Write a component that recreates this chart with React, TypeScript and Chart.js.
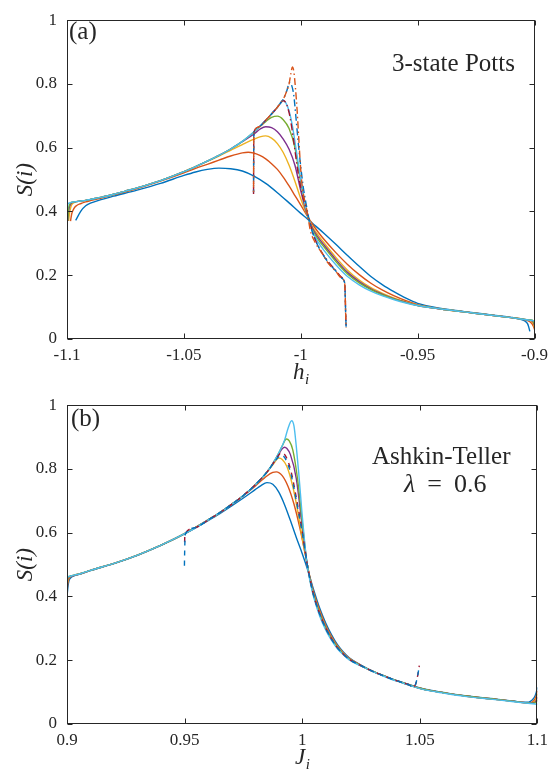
import React, { useEffect, useRef } from 'react';
import { Chart, registerables } from 'chart.js';
Chart.register(...registerables);

const SERIF = "'Liberation Serif', 'Times New Roman', 'DejaVu Serif', serif";
const INK = '#262626';
const COL = {
  blue: '#0072BD', orange: '#D95319', yellow: '#EDB120', purple: '#7E2F8E',
  green: '#77AC30', cyan: '#4DBEEE', red: '#A2142F',
};

type Pt = [number, number];

// ---------- axes ----------
const hTicks = [-1.1, -1.05, -1, -0.95, -0.9];
const hTickLabels = ['-1.1', '-1.05', '-1', '-0.95', '-0.9'];
const jTicks = [0.9, 0.95, 1, 1.05, 1.1];
const jTickLabels = ['0.9', '0.95', '1', '1.05', '1.1'];
const sTicks = [0, 0.2, 0.4, 0.6, 0.8, 1];
const sTickLabels = ['0', '0.2', '0.4', '0.6', '0.8', '1'];

// ---------- panel (a): 3-state Potts, S(i) vs h_i ----------
const pottsBlue: Pt[] = [[-1.0963,0.372],[-1.094,0.402],[-1.092,0.418],[-1.09,0.426],[-1.085,0.438],[-1.08,0.448],[-1.07,0.467],[-1.06,0.488],[-1.05,0.513],[-1.045,0.524],[-1.04,0.532],[-1.035,0.536],[-1.03,0.534],[-1.025,0.527],[-1.02,0.511],[-1.015,0.488],[-1.01,0.459],[-1.005,0.427],[-1.0,0.394],[-0.9975,0.379],[-0.995,0.363],[-0.99,0.331],[-0.985,0.297],[-0.98,0.262],[-0.975,0.228],[-0.97,0.196],[-0.965,0.170],[-0.96,0.148],[-0.955,0.128],[-0.95,0.112],[-0.94,0.096],[-0.93,0.086],[-0.92,0.077],[-0.91,0.068],[-0.906,0.062],[-0.904,0.056],[-0.903,0.048],[-0.9025,0.038],[-0.902,0.024]];
const pottsOrange: Pt[] = [[-1.0985,0.370],[-1.098,0.392],[-1.097,0.41],[-1.096,0.418],[-1.094,0.425],[-1.092,0.430],[-1.09,0.434],[-1.085,0.443],[-1.08,0.452],[-1.07,0.472],[-1.06,0.495],[-1.05,0.521],[-1.045,0.535],[-1.04,0.548],[-1.035,0.561],[-1.03,0.574],[-1.025,0.584],[-1.0225,0.586],[-1.02,0.583],[-1.0175,0.576],[-1.015,0.565],[-1.0125,0.55],[-1.01,0.532],[-1.0075,0.508],[-1.005,0.48],[-1.0025,0.45],[-1.0,0.42],[-0.9975,0.389],[-0.995,0.36],[-0.9925,0.335],[-0.99,0.312],[-0.985,0.271],[-0.98,0.234],[-0.975,0.202],[-0.97,0.175],[-0.965,0.153],[-0.96,0.135],[-0.955,0.120],[-0.95,0.108],[-0.94,0.094],[-0.93,0.085],[-0.92,0.076],[-0.91,0.067],[-0.905,0.062],[-0.903,0.058],[-0.902,0.054],[-0.901,0.047],[-0.9005,0.04],[-0.9,0.03]];
const pottsYellow: Pt[] = [[-1.0993,0.370],[-1.099,0.39],[-1.0985,0.41],[-1.098,0.421],[-1.097,0.428],[-1.096,0.431],[-1.094,0.433],[-1.092,0.435],[-1.09,0.438],[-1.085,0.445],[-1.08,0.454],[-1.075,0.464],[-1.07,0.474],[-1.06,0.497],[-1.05,0.525],[-1.045,0.541],[-1.04,0.557],[-1.035,0.574],[-1.03,0.592],[-1.025,0.61],[-1.02,0.627],[-1.0175,0.634],[-1.015,0.637],[-1.0125,0.63],[-1.01,0.613],[-1.0075,0.585],[-1.005,0.545],[-1.0025,0.495],[-1.0,0.44],[-0.9975,0.392],[-0.995,0.352],[-0.9925,0.325],[-0.99,0.301],[-0.985,0.256],[-0.98,0.216],[-0.975,0.185],[-0.97,0.161],[-0.965,0.143],[-0.96,0.128],[-0.955,0.116],[-0.95,0.106],[-0.94,0.094],[-0.93,0.085],[-0.92,0.076],[-0.91,0.067],[-0.905,0.062],[-0.903,0.06],[-0.902,0.058],[-0.901,0.054],[-0.9005,0.048],[-0.9,0.036]];
const pottsPurple: Pt[] = [[-1.0997,0.370],[-1.0993,0.40],[-1.099,0.413],[-1.0985,0.422],[-1.098,0.427],[-1.097,0.430],[-1.096,0.431],[-1.094,0.433],[-1.092,0.435],[-1.09,0.438],[-1.085,0.445],[-1.08,0.454],[-1.075,0.464],[-1.07,0.474],[-1.06,0.497],[-1.05,0.525],[-1.045,0.541],[-1.04,0.558],[-1.035,0.576],[-1.03,0.596],[-1.025,0.619],[-1.02,0.643],[-1.0175,0.658],[-1.015,0.666],[-1.0125,0.663],[-1.01,0.65],[-1.0075,0.627],[-1.005,0.595],[-1.0025,0.545],[-1.0,0.465],[-0.9975,0.395],[-0.995,0.347],[-0.9925,0.318],[-0.99,0.294],[-0.985,0.249],[-0.98,0.209],[-0.975,0.18],[-0.97,0.157],[-0.965,0.14],[-0.96,0.126],[-0.955,0.115],[-0.95,0.105],[-0.94,0.094],[-0.93,0.085],[-0.92,0.076],[-0.91,0.067],[-0.905,0.062],[-0.903,0.06],[-0.902,0.059],[-0.901,0.057],[-0.9005,0.053],[-0.9,0.042]];
const pottsGreen: Pt[] = [[-1.0997,0.372],[-1.0993,0.41],[-1.099,0.42],[-1.0985,0.426],[-1.098,0.429],[-1.097,0.430],[-1.096,0.431],[-1.094,0.433],[-1.092,0.435],[-1.09,0.438],[-1.085,0.445],[-1.08,0.454],[-1.075,0.464],[-1.07,0.474],[-1.06,0.497],[-1.05,0.525],[-1.045,0.541],[-1.04,0.558],[-1.035,0.576],[-1.03,0.596],[-1.025,0.62],[-1.02,0.65],[-1.0175,0.666],[-1.015,0.682],[-1.0125,0.695],[-1.01,0.699],[-1.0075,0.688],[-1.005,0.66],[-1.0025,0.60],[-1.0,0.49],[-0.9975,0.398],[-0.995,0.343],[-0.9925,0.312],[-0.99,0.288],[-0.985,0.243],[-0.98,0.204],[-0.975,0.176],[-0.97,0.155],[-0.965,0.138],[-0.96,0.125],[-0.955,0.114],[-0.95,0.105],[-0.94,0.094],[-0.93,0.085],[-0.92,0.076],[-0.91,0.067],[-0.905,0.062],[-0.902,0.06],[-0.901,0.059],[-0.9005,0.056],[-0.9,0.045]];
const pottsCyan: Pt[] = [[-1.1,0.372],[-1.0997,0.42],[-1.0993,0.426],[-1.099,0.427],[-1.0985,0.428],[-1.098,0.429],[-1.097,0.430],[-1.096,0.431],[-1.094,0.433],[-1.092,0.435],[-1.09,0.438],[-1.085,0.445],[-1.08,0.454],[-1.075,0.464],[-1.07,0.474],[-1.06,0.497],[-1.05,0.525],[-1.045,0.541],[-1.04,0.558],[-1.035,0.576],[-1.03,0.596],[-1.025,0.62],[-1.02,0.65],[-1.0175,0.667],[-1.015,0.686],[-1.0125,0.706],[-1.01,0.727],[-1.0085,0.743],[-1.0076,0.748],[-1.0065,0.742],[-1.005,0.715],[-1.0035,0.665],[-1.002,0.595],[-1.0,0.50],[-0.998,0.415],[-0.9965,0.375],[-0.995,0.338],[-0.9925,0.303],[-0.99,0.277],[-0.985,0.233],[-0.98,0.196],[-0.975,0.17],[-0.97,0.15],[-0.965,0.135],[-0.96,0.123],[-0.955,0.113],[-0.95,0.105],[-0.94,0.094],[-0.93,0.085],[-0.92,0.076],[-0.91,0.067],[-0.905,0.062],[-0.902,0.059],[-0.9,0.057]];
const pottsRedDashDot: Pt[] = [[-1.0202,0.455],[-1.02015,0.56],[-1.0201,0.63],[-1.0199,0.652],[-1.0175,0.667],[-1.015,0.686],[-1.0125,0.706],[-1.01,0.727],[-1.0085,0.742],[-1.0076,0.748],[-1.0068,0.745],[-1.006,0.735],[-1.005,0.71],[-1.004,0.67],[-1.003,0.62],[-1.002,0.565],[-1.001,0.515],[-1.0,0.475],[-0.9985,0.43],[-0.997,0.39],[-0.9955,0.35],[-0.994,0.315],[-0.991,0.272],[-0.988,0.24],[-0.985,0.215],[-0.9825,0.193],[-0.9812,0.176],[-0.981,0.14],[-0.9808,0.08],[-0.9806,0.036]];
const pottsBlueDashDot: Pt[] = [[-1.0202,0.46],[-1.02015,0.57],[-1.0201,0.635],[-1.0199,0.652],[-1.0175,0.667],[-1.015,0.686],[-1.0125,0.706],[-1.01,0.727],[-1.0075,0.752],[-1.006,0.778],[-1.0048,0.805],[-1.004,0.798],[-1.003,0.765],[-1.002,0.69],[-1.001,0.61],[-1.0,0.54],[-0.999,0.48],[-0.9975,0.415],[-0.996,0.36],[-0.994,0.315],[-0.991,0.27],[-0.988,0.238],[-0.985,0.213],[-0.9825,0.191],[-0.9812,0.175],[-0.981,0.14],[-0.9808,0.08],[-0.9806,0.038]];
const pottsOrangeDashDot: Pt[] = [[-1.0202,0.455],[-1.02015,0.55],[-1.0201,0.625],[-1.0199,0.652],[-1.0175,0.667],[-1.015,0.686],[-1.0125,0.706],[-1.01,0.727],[-1.0075,0.752],[-1.006,0.778],[-1.005,0.80],[-1.0043,0.83],[-1.0036,0.853],[-1.003,0.84],[-1.0023,0.79],[-1.0015,0.71],[-1.0009,0.635],[-1.0,0.53],[-0.9994,0.48],[-0.9985,0.44],[-0.9973,0.40],[-0.9959,0.34],[-0.994,0.305],[-0.991,0.27],[-0.9882,0.237],[-0.985,0.212],[-0.9825,0.19],[-0.9812,0.174],[-0.981,0.14],[-0.9808,0.08],[-0.9806,0.036]];

// ---------- panel (b): Ashkin-Teller, S(i) vs J_i ----------
const atBlue: Pt[] = [[0.9,0.40],[0.9004,0.43],[0.9008,0.448],[0.9015,0.458],[0.903,0.465],[0.906,0.471],[0.91,0.481],[0.92,0.503],[0.93,0.529],[0.94,0.56],[0.95,0.596],[0.96,0.638],[0.965,0.66],[0.97,0.684],[0.975,0.709],[0.98,0.735],[0.9825,0.748],[0.985,0.757],[0.9875,0.752],[0.99,0.728],[0.9925,0.688],[0.995,0.638],[0.9975,0.585],[1.0,0.535],[1.0025,0.48],[1.005,0.418],[1.0075,0.362],[1.01,0.317],[1.0125,0.28],[1.015,0.249],[1.0175,0.226],[1.02,0.208],[1.025,0.185],[1.03,0.166],[1.035,0.151],[1.04,0.137],[1.045,0.125],[1.05,0.113],[1.055,0.105],[1.06,0.099],[1.065,0.093],[1.07,0.088],[1.08,0.08],[1.09,0.072],[1.094,0.068],[1.096,0.068],[1.097,0.071],[1.098,0.077],[1.099,0.088],[1.0995,0.098],[1.1,0.115]];
const atOrange: Pt[] = [[0.9,0.415],[0.9004,0.445],[0.901,0.458],[0.903,0.466],[0.906,0.472],[0.91,0.482],[0.92,0.504],[0.93,0.53],[0.94,0.561],[0.95,0.597],[0.96,0.64],[0.965,0.663],[0.97,0.689],[0.975,0.716],[0.98,0.746],[0.985,0.778],[0.9875,0.789],[0.989,0.791],[0.9915,0.779],[0.994,0.745],[0.9965,0.69],[0.999,0.615],[1.0015,0.525],[1.003,0.47],[1.005,0.41],[1.0075,0.355],[1.01,0.31],[1.0125,0.274],[1.015,0.245],[1.0175,0.223],[1.02,0.206],[1.025,0.184],[1.03,0.165],[1.035,0.15],[1.04,0.136],[1.045,0.124],[1.05,0.112],[1.055,0.104],[1.06,0.098],[1.065,0.092],[1.07,0.087],[1.08,0.079],[1.09,0.071],[1.095,0.067],[1.097,0.067],[1.098,0.07],[1.099,0.079],[1.0995,0.088],[1.1,0.104]];
const atYellow: Pt[] = [[0.9,0.43],[0.9004,0.452],[0.901,0.461],[0.903,0.466],[0.906,0.472],[0.91,0.482],[0.92,0.504],[0.93,0.53],[0.94,0.561],[0.95,0.597],[0.96,0.64],[0.965,0.663],[0.97,0.689],[0.975,0.717],[0.98,0.75],[0.985,0.789],[0.9875,0.813],[0.99,0.834],[0.9915,0.83],[0.9935,0.808],[0.996,0.745],[0.998,0.672],[1.0,0.585],[1.002,0.507],[1.0035,0.45],[1.005,0.405],[1.0075,0.35],[1.01,0.306],[1.0125,0.27],[1.015,0.243],[1.0175,0.222],[1.02,0.205],[1.025,0.183],[1.03,0.165],[1.035,0.15],[1.04,0.136],[1.045,0.124],[1.05,0.112],[1.055,0.104],[1.06,0.098],[1.065,0.092],[1.07,0.087],[1.08,0.079],[1.09,0.071],[1.096,0.066],[1.098,0.067],[1.099,0.072],[1.0995,0.079],[1.1,0.094]];
const atPurple: Pt[] = [[0.9,0.44],[0.9003,0.455],[0.901,0.462],[0.903,0.466],[0.906,0.472],[0.91,0.482],[0.92,0.504],[0.93,0.53],[0.94,0.561],[0.95,0.597],[0.96,0.64],[0.965,0.663],[0.97,0.689],[0.975,0.717],[0.98,0.75],[0.985,0.79],[0.9875,0.816],[0.99,0.846],[0.9915,0.863],[0.9925,0.868],[0.9935,0.864],[0.995,0.845],[0.9975,0.77],[1.0,0.62],[1.002,0.507],[1.0035,0.447],[1.005,0.402],[1.0075,0.346],[1.01,0.303],[1.0125,0.268],[1.015,0.241],[1.0175,0.22],[1.02,0.204],[1.025,0.183],[1.03,0.165],[1.035,0.15],[1.04,0.136],[1.045,0.124],[1.05,0.112],[1.055,0.104],[1.06,0.098],[1.065,0.092],[1.07,0.087],[1.08,0.079],[1.09,0.071],[1.097,0.066],[1.099,0.068],[1.0995,0.073],[1.1,0.084]];
const atGreen: Pt[] = [[0.9,0.445],[0.9003,0.458],[0.901,0.463],[0.903,0.467],[0.906,0.472],[0.91,0.482],[0.92,0.504],[0.93,0.53],[0.94,0.561],[0.95,0.597],[0.96,0.64],[0.965,0.663],[0.97,0.689],[0.975,0.717],[0.98,0.75],[0.985,0.79],[0.9875,0.817],[0.99,0.849],[0.9915,0.872],[0.9933,0.894],[0.9945,0.888],[0.996,0.86],[0.998,0.77],[1.0,0.635],[1.002,0.507],[1.0035,0.445],[1.005,0.40],[1.0075,0.343],[1.01,0.30],[1.0125,0.266],[1.015,0.24],[1.0175,0.219],[1.02,0.203],[1.025,0.183],[1.03,0.165],[1.035,0.15],[1.04,0.136],[1.045,0.124],[1.05,0.112],[1.055,0.104],[1.06,0.098],[1.065,0.092],[1.07,0.087],[1.08,0.079],[1.09,0.071],[1.098,0.065],[1.0995,0.068],[1.1,0.075]];
const atCyan: Pt[] = [[0.9,0.455],[0.9003,0.461],[0.901,0.463],[0.903,0.467],[0.906,0.472],[0.91,0.482],[0.92,0.504],[0.93,0.53],[0.94,0.561],[0.95,0.597],[0.955,0.617],[0.96,0.64],[0.965,0.663],[0.97,0.689],[0.975,0.717],[0.98,0.75],[0.985,0.79],[0.9875,0.817],[0.99,0.85],[0.9925,0.89],[0.994,0.928],[0.9955,0.951],[0.9965,0.935],[0.9975,0.87],[0.9985,0.79],[1.0,0.655],[1.001,0.575],[1.002,0.507],[1.003,0.46],[1.004,0.425],[1.005,0.395],[1.0075,0.337],[1.01,0.295],[1.0125,0.262],[1.015,0.236],[1.0175,0.217],[1.02,0.201],[1.025,0.182],[1.03,0.164],[1.035,0.149],[1.04,0.135],[1.045,0.123],[1.05,0.111],[1.055,0.103],[1.06,0.097],[1.065,0.091],[1.07,0.086],[1.08,0.078],[1.09,0.07],[1.1,0.062]];
const atRedDash: Pt[] = [[0.95,0.57],[0.9501,0.59],[0.9503,0.598],[0.955,0.617],[0.96,0.64],[0.965,0.663],[0.97,0.689],[0.975,0.717],[0.98,0.75],[0.985,0.79],[0.9875,0.816],[0.99,0.843],[0.991,0.851],[0.9925,0.846],[0.995,0.80],[0.9975,0.71],[1.0,0.605],[1.002,0.507],[1.0035,0.448],[1.005,0.40],[1.0075,0.344],[1.01,0.30],[1.0125,0.266],[1.015,0.239],[1.0175,0.219],[1.02,0.203],[1.025,0.183],[1.03,0.165],[1.035,0.15],[1.04,0.136],[1.045,0.124],[1.047,0.117],[1.048,0.121],[1.049,0.148],[1.0498,0.183]];
const atBlueDash: Pt[] = [[0.9499,0.481],[0.95,0.53],[0.9502,0.585],[0.9505,0.598],[0.955,0.617],[0.96,0.64],[0.965,0.663],[0.97,0.689],[0.975,0.717],[0.98,0.75],[0.985,0.79],[0.9875,0.815],[0.99,0.838],[0.991,0.843],[0.9925,0.836],[0.995,0.79],[0.9975,0.70],[1.0,0.60],[1.002,0.507],[1.0035,0.448],[1.005,0.40],[1.0075,0.344],[1.01,0.30],[1.0125,0.266],[1.015,0.239],[1.0175,0.219],[1.02,0.203],[1.025,0.183],[1.03,0.165],[1.035,0.15],[1.04,0.136],[1.045,0.124],[1.047,0.117],[1.048,0.121],[1.049,0.148],[1.0498,0.183]];

const DASHDOT = [7, 3, 1.5, 3];
const DASH = [5, 5];

function series(list: { data: Pt[]; color: string; dash?: number[]; offset?: number }[]) {
  const n = list.length;
  return list.map((s, i) => ({
    data: s.data.map(([x, y]) => ({ x, y })),
    borderColor: s.color,
    backgroundColor: s.color,
    borderWidth: 1.4,
    borderDash: s.dash || [],
    borderDashOffset: s.offset || 0,
    pointRadius: 0,
    pointHoverRadius: 0,
    fill: false,
    cubicInterpolationMode: 'monotone',
    order: n - 1 - i,
  }));
}

function drawXTitle(ctx: any, main: string, sub: string, cx: number, base: number) {
  ctx.font = `italic 23px ${SERIF}`;
  const w1 = ctx.measureText(main).width;
  ctx.font = `italic 15px ${SERIF}`;
  const w2 = ctx.measureText(sub).width;
  const x0 = cx - (w1 + w2) / 2;
  ctx.textAlign = 'left';
  ctx.textBaseline = 'alphabetic';
  ctx.font = `italic 23px ${SERIF}`;
  ctx.fillText(main, x0, base);
  ctx.font = `italic 15px ${SERIF}`;
  ctx.fillText(sub, x0 + w1 + 0.5, base + 5);
}

function makeConfig(datasets: any[], xMin: number, xMax: number, xTicks: number[], xLabels: string[], titleMain: string, titleSub: string, drawNotes: (ctx: any) => void) {
  const tickFont = { family: SERIF, size: 17 };
  return {
    type: 'line',
    data: { datasets },
    options: {
      animation: false,
      responsive: false,
      maintainAspectRatio: false,
      events: [],
      layout: { padding: { left: 0, right: 13, top: 15, bottom: 0 } },
      plugins: { legend: { display: false }, tooltip: { enabled: false } },
      scales: {
        x: {
          type: 'linear', min: xMin, max: xMax,
          afterBuildTicks: (s: any) => { s.ticks = xTicks.map((v) => ({ value: v })); },
          afterFit: (s: any) => { s.height = 46; },
          ticks: { callback: (_v: any, i: number) => xLabels[i], font: tickFont, color: INK, padding: 6, maxRotation: 0, autoSkip: false },
          grid: { display: false, drawTicks: false },
          border: { display: false },
        },
        y: {
          type: 'linear', min: 0, max: 1,
          afterBuildTicks: (s: any) => { s.ticks = sTicks.map((v) => ({ value: v })); },
          afterFit: (s: any) => { s.width = 67; },
          ticks: { callback: (_v: any, i: number) => sTickLabels[i], font: tickFont, color: INK, padding: 10, autoSkip: false },
          grid: { display: false, drawTicks: false },
          border: { display: false },
        },
      },
    },
    plugins: [{
      id: 'matlabFrame',
      afterDatasetsDraw(chart: any) {
        const { ctx, chartArea: a, scales } = chart;
        ctx.save();
        ctx.strokeStyle = INK;
        ctx.lineWidth = 1;
        const L = Math.round(a.left) + 0.5, R = Math.round(a.right) - 0.5;
        const T = Math.round(a.top) + 0.5, B = Math.round(a.bottom) - 0.5;
        ctx.strokeRect(L, T, R - L, B - T);
        ctx.beginPath();
        xTicks.forEach((v) => {
          const px = Math.round(scales.x.getPixelForValue(v)) + 0.5;
          ctx.moveTo(px, B); ctx.lineTo(px, B - 5);
          ctx.moveTo(px, T); ctx.lineTo(px, T + 5);
        });
        sTicks.forEach((v) => {
          const py = Math.round(scales.y.getPixelForValue(v)) + 0.5;
          ctx.moveTo(L, py); ctx.lineTo(L + 5, py);
          ctx.moveTo(R, py); ctx.lineTo(R - 5, py);
        });
        ctx.stroke();
        ctx.restore();
      },
      afterDraw(chart: any) {
        const { ctx, chartArea: a } = chart;
        ctx.save();
        ctx.fillStyle = INK;
        // y title
        ctx.save();
        ctx.translate(26, (a.top + a.bottom) / 2);
        ctx.rotate(-Math.PI / 2);
        ctx.font = `italic 23px ${SERIF}`;
        ctx.textAlign = 'center';
        ctx.textBaseline = 'middle';
        ctx.fillText('S(i)', 0, 0);
        ctx.restore();
        // x title
        drawXTitle(ctx, titleMain, titleSub, (a.left + a.right) / 2, a.bottom + 40);
        // notes
        drawNotes(ctx);
        ctx.restore();
      },
    }],
  } as any;
}

export default function App() {
  const refA = useRef<HTMLCanvasElement>(null);
  const refB = useRef<HTMLCanvasElement>(null);

  useEffect(() => {
    const dsA = series([
      { data: pottsBlue, color: COL.blue },
      { data: pottsOrange, color: COL.orange },
      { data: pottsYellow, color: COL.yellow },
      { data: pottsPurple, color: COL.purple },
      { data: pottsGreen, color: COL.green },
      { data: pottsCyan, color: COL.cyan },
      { data: pottsRedDashDot, color: COL.red, dash: DASHDOT },
      { data: pottsBlueDashDot, color: COL.blue, dash: DASHDOT, offset: 4 },
      { data: pottsOrangeDashDot, color: COL.orange, dash: DASHDOT, offset: 8 },
    ]);
    const dsB = series([
      { data: atBlue, color: COL.blue },
      { data: atOrange, color: COL.orange },
      { data: atYellow, color: COL.yellow },
      { data: atPurple, color: COL.purple },
      { data: atGreen, color: COL.green },
      { data: atCyan, color: COL.cyan },
      { data: atRedDash, color: COL.red, dash: DASH },
      { data: atBlueDash, color: COL.blue, dash: DASH, offset: 5 },
    ]);
    const a = new Chart(refA.current as any, makeConfig(dsA, -1.1, -0.9, hTicks, hTickLabels, 'h', 'i', (ctx) => {
      ctx.font = `25px ${SERIF}`;
      ctx.textAlign = 'left';
      ctx.textBaseline = 'middle';
      ctx.fillText('(a)', 69, 32);
      ctx.fillText('3-state Potts', 392, 64);
    }));
    const b = new Chart(refB.current as any, makeConfig(dsB, 0.9, 1.1, jTicks, jTickLabels, 'J', 'i', (ctx) => {
      ctx.font = `25px ${SERIF}`;
      ctx.textAlign = 'left';
      ctx.textBaseline = 'middle';
      ctx.fillText('(b)', 71, 34);
      ctx.fillText('Ashkin-Teller', 372, 72);
      ctx.font = `italic 26px ${SERIF}`;
      ctx.fillText('λ', 404, 100);
      const wl = ctx.measureText('λ').width;
      ctx.font = `26px ${SERIF}`;
      const xEq = 404 + wl + 12;
      ctx.fillText('=', xEq, 100);
      const we = ctx.measureText('=').width;
      ctx.fillText('0.6', xEq + we + 12, 100);
    }));
    return () => { a.destroy(); b.destroy(); };
  }, []);

  return (
    <div style={{ position: 'absolute', left: 0, top: 0, width: 554, height: 770, background: '#fff' }}>
      <canvas ref={refA} width={554} height={385} style={{ display: 'block', width: 554, height: 385 }} />
      <canvas ref={refB} width={554} height={385} style={{ display: 'block', width: 554, height: 385 }} />
    </div>
  );
}
